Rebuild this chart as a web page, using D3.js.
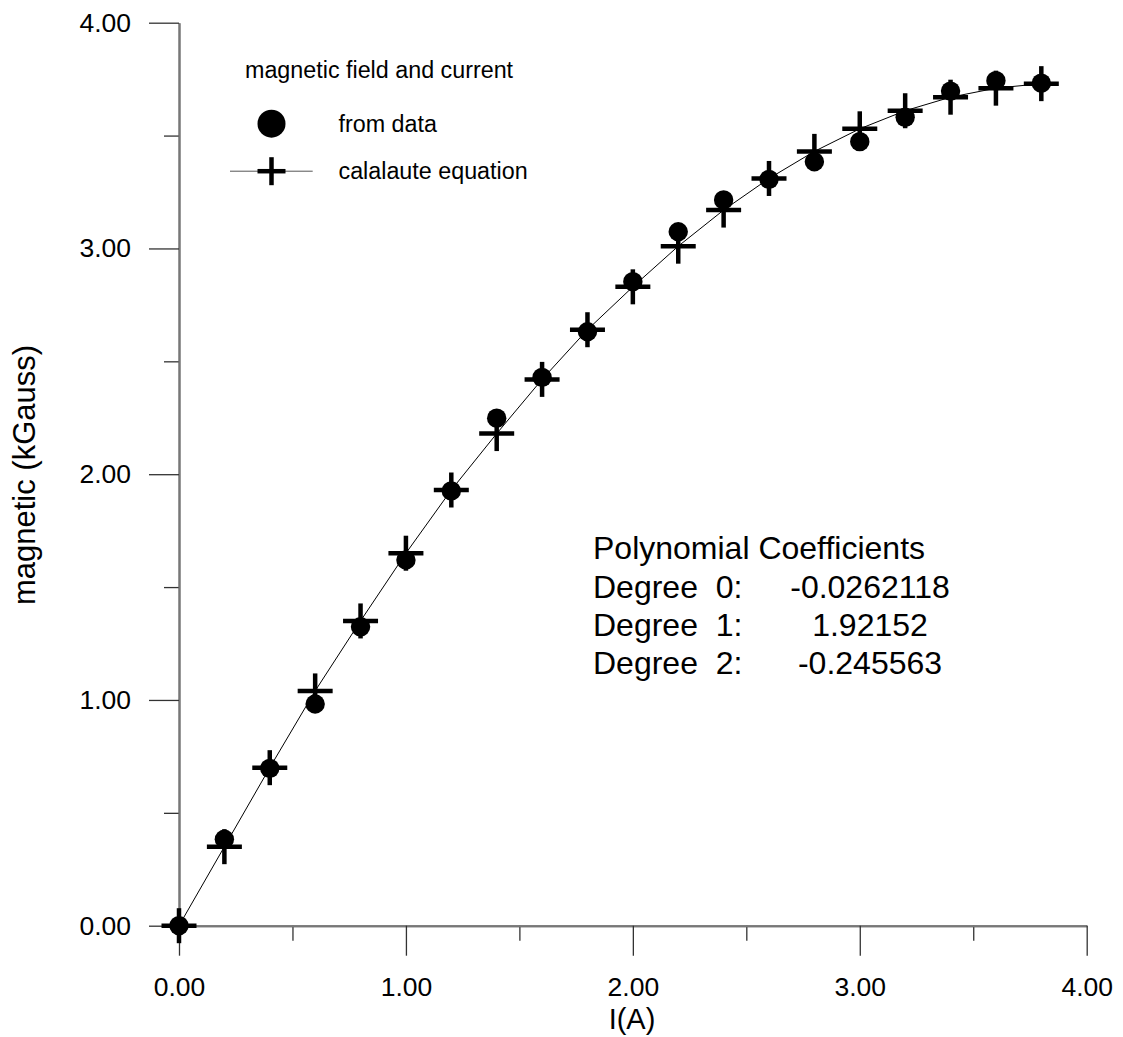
<!DOCTYPE html>
<html>
<head>
<meta charset="utf-8">
<script src="https://cdn.jsdelivr.net/npm/d3@7"></script>
<style>
  body { margin: 0; background: #fff; }
  svg { display: block; }
  text { font-family: "Liberation Sans", Arial, sans-serif; fill: #000; }
</style>
</head>
<body>
<div id="chart"></div>
<script>
// current (A) and field (kGauss)
var current = [0, 0.2, 0.4, 0.6, 0.8, 1.0, 1.2, 1.4, 1.6, 1.8, 2.0, 2.2, 2.4, 2.6, 2.8, 3.0, 3.2, 3.4, 3.6, 3.8];
var measured = [0.00, 0.383, 0.697, 0.982, 1.324, 1.620, 1.926, 2.248, 2.429, 2.631, 2.853, 3.074, 3.215, 3.306, 3.384, 3.473, 3.581, 3.697, 3.743, 3.732];
var calculated = [0.00, 0.35, 0.70, 1.04, 1.35, 1.65, 1.93, 2.18, 2.42, 2.64, 2.83, 3.01, 3.17, 3.31, 3.43, 3.53, 3.61, 3.67, 3.71, 3.73];

var majorTicks = [0, 1, 2, 3, 4];
var minorTicks = [0.5, 1.5, 2.5, 3.5];

var coefLabels = ["Degree  0:", "Degree  1:", "Degree  2:"];
var coefValues = ["-0.0262118", "1.92152", "-0.245563"];

var W = 1123, H = 1037;
var svg = d3.select("#chart").append("svg")
	.attr("width", W)
	.attr("height", H);

var x = d3.scaleLinear().domain([0, 4]).range([179, 1086.7]);
var y = d3.scaleLinear().domain([0, 4]).range([925.7, 22.7]);
var fmt = d3.format(".2f");

// axes
var gy = svg.append("g").attr("transform", "translate(" + x(0) + ",0)");
gy.call(d3.axisLeft(y).tickValues(minorTicks).tickSize(15).tickSizeOuter(0).tickFormat(""));
var gy2 = svg.append("g").attr("transform", "translate(" + x(0) + ",0)");
gy2.call(d3.axisLeft(y).tickValues(majorTicks).tickSize(30).tickSizeOuter(0).tickPadding(18).tickFormat(fmt));

var gx = svg.append("g").attr("transform", "translate(0," + y(0) + ")");
gx.call(d3.axisBottom(x).tickValues(minorTicks).tickSize(15).tickSizeOuter(0).tickFormat(""));
var gx2 = svg.append("g").attr("transform", "translate(0," + y(0) + ")");
gx2.call(d3.axisBottom(x).tickValues(majorTicks).tickSize(30).tickSizeOuter(0).tickPadding(21).tickFormat(fmt));

svg.selectAll(".domain").attr("stroke", "#777").attr("stroke-width", 2);
svg.selectAll(".tick line").attr("stroke", "#333").attr("stroke-width", 1.3);
svg.selectAll(".tick text")
	.style("font-family", '"Liberation Sans", Arial, sans-serif')
	.attr("font-size", 26.5)
	.attr("fill", "#000");

// axis titles
svg.append("text")
	.attr("x", 632).attr("y", 1029)
	.attr("text-anchor", "middle")
	.attr("font-size", 29)
	.text("I(A)");

svg.append("text")
	.attr("transform", "translate(35,475) rotate(-90)")
	.attr("text-anchor", "middle")
	.attr("font-size", 31)
	.text("magnetic (kGauss)");

// fitted curve
var line = d3.line()
	.x(function(d, i){ return x(current[i]); })
	.y(function(d){ return y(d); });

svg.append("path")
	.datum(calculated)
	.attr("d", line)
	.attr("fill", "none")
	.attr("stroke", "#000")
	.attr("stroke-width", 1);

// data dots
svg.selectAll("circle.dot")
	.data(measured)
	.enter()
	.append("circle")
	.attr("class", "dot")
	.attr("cx", function(d, i){ return x(current[i]); })
	.attr("cy", function(d){ return y(d); })
	.attr("r", 9.7)
	.attr("fill", "#000");

// crosses
function cross(g, cx, cy, half, w){
	g.append("line").attr("x1", cx - half).attr("x2", cx + half).attr("y1", cy).attr("y2", cy)
		.attr("stroke", "#000").attr("stroke-width", w);
	g.append("line").attr("x1", cx).attr("x2", cx).attr("y1", cy - half).attr("y2", cy + half)
		.attr("stroke", "#000").attr("stroke-width", w);
}
var gc = svg.append("g");
calculated.forEach(function(d, i){
	cross(gc, x(current[i]), y(d), 17.5, 4.5);
});

// legend
var lg = svg.append("g");
lg.append("text").attr("x", 245).attr("y", 77.5).attr("font-size", 23.3).text("magnetic field and current");
lg.append("circle").attr("cx", 271.5).attr("cy", 123.7).attr("r", 14).attr("fill", "#000");
lg.append("text").attr("x", 338.5).attr("y", 131.5).attr("font-size", 23.3).text("from data");
lg.append("line").attr("x1", 230).attr("x2", 312.7).attr("y1", 171.2).attr("y2", 171.2)
	.attr("stroke", "#555").attr("stroke-width", 1);
cross(lg, 271.5, 171.2, 14, 4.5);
lg.append("text").attr("x", 338.5).attr("y", 178.5).attr("font-size", 23.3).text("calalaute equation");

// coefficient block
var cb = svg.append("g");
cb.append("text").attr("x", 593).attr("y", 559).attr("font-size", 32).text("Polynomial Coefficients");
coefLabels.forEach(function(t, i){
	cb.append("text").attr("x", 593).attr("y", 597.5 + i * 38.2).attr("font-size", 32)
		.style("white-space", "pre").text(t);
	cb.append("text").attr("x", 870).attr("y", 597.5 + i * 38.2).attr("font-size", 32)
		.attr("text-anchor", "middle").text(coefValues[i]);
});
</script>
</body>
</html>
